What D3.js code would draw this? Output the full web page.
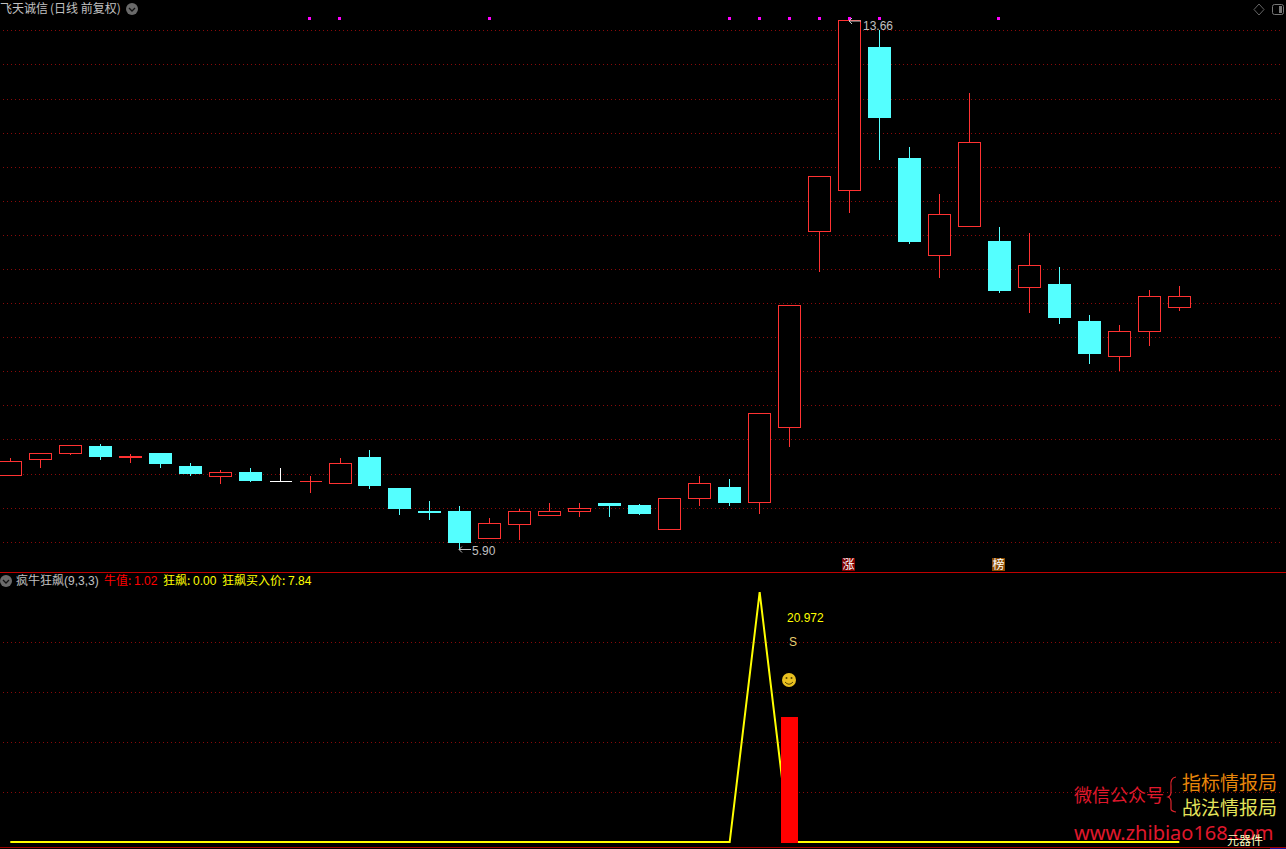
<!DOCTYPE html>
<html lang="zh">
<head>
<meta charset="utf-8">
<script src="https://cdn.jsdelivr.net/npm/d3@7/dist/d3.min.js"></script>
<style>
html,body{margin:0;padding:0;background:#000;overflow:hidden}
svg{display:block}
text{font-family:"Liberation Sans","Noto Sans CJK SC",sans-serif;font-size:12px;white-space:pre}
</style>
</head>
<body>
<svg id="c" width="1286" height="849"></svg>
<script>
// Daily price bars of 飞天诚信, left to right
const opens  = [6.981,7.210,7.298,7.411,7.235,7.308,7.118,6.961,7.030,6.893,6.893,6.858,7.250,6.795,6.458,6.458,6.051,6.257,6.389,6.447,6.575,6.546,6.183,6.638,6.810,6.585,7.685,10.560,11.162,13.264,11.636,10.203,10.628,10.418,9.733,9.787,9.245,8.721,9.088,9.440];
const closes = [7.187,7.304,7.421,7.250,7.264,7.147,7.000,7.025,6.898,6.893,6.893,7.157,6.824,6.487,6.428,5.988,6.277,6.453,6.453,6.497,6.531,6.414,6.644,6.864,6.575,7.891,9.475,11.367,13.656,12.222,10.403,10.810,11.866,9.685,10.062,9.289,8.761,9.094,9.607,9.607];
const highs  = [7.235,7.304,7.421,7.440,7.294,7.308,7.162,7.059,7.088,7.088,6.971,7.235,7.352,6.795,6.604,6.531,6.355,6.487,6.575,6.575,6.575,6.560,6.644,6.971,6.927,7.891,9.475,11.367,13.660,13.513,11.797,11.108,12.589,10.624,10.535,10.037,9.333,9.186,9.699,9.758];
const lows   = [6.981,7.093,7.279,7.206,7.162,7.088,6.971,6.854,6.883,6.893,6.722,6.858,6.780,6.399,6.325,5.900,6.051,6.032,6.389,6.369,6.369,6.399,6.183,6.531,6.531,6.414,7.401,9.963,10.833,11.606,10.374,9.875,10.628,9.655,9.362,9.201,8.614,8.511,8.878,9.391];
// Lower pane: 牛值 line, one value per bar
const bullValues = [0,0,0,0,0,0,0,0,0,0,0,0,0,0,0,0,0,0,0,0,0,0,0,0,0,25,0,0,0,0,0,0,0,0,0,0,0,0,0,0];
const buyBarIndex = 26, buyBarValue = 12.5, buyLabel = "20.972", sellLabel = "S";
const signalIndexes = [10,11,16,24,25,26,27,28,29,33];
const priceTicks = [6,6.5,7,7.5,8,8.5,9,9.5,10,10.5,11,11.5,12,12.5,13,13.5];
const bullTicks = [5,10,15,20];
const watermarkLines = ["微信公众号","指标情报局","战法情报局","www.zhibiao168.com"];

const W = 1286, H = 849;
const svg = d3.select("#c");
const x = d3.scaleLinear().domain([0,39]).range([10.3,1179.3]);
const y = d3.scaleLinear().domain([5.90,13.66]).range([549,20]);
const yb = d3.scaleLinear().domain([0,25]).range([842,592]);
const crisp = v => Math.round(v - 0.5) + 0.5;
const RED = "#ff3232", CYAN = "#54ffff", YEL = "#ffff00", GRID = "#8a0a0a";

const grid = svg.append("g").attr("stroke",GRID).attr("stroke-dasharray","1 3").attr("shape-rendering","crispEdges");
grid.selectAll(".p").data(priceTicks).join("line").attr("class","p")
  .attr("x1",3).attr("x2",W-3).attr("y1",d=>crisp(y(d))).attr("y2",d=>crisp(y(d)));
grid.selectAll(".b").data(bullTicks).join("line").attr("class","b")
  .attr("x1",3).attr("x2",W-3).attr("y1",d=>crisp(yb(d))).attr("y2",d=>crisp(yb(d)));

// Candles
const bars = svg.append("g").attr("shape-rendering","crispEdges");
opens.forEach((o,i)=>{
  const c = closes[i], cx = crisp(x(i));
  const flat = Math.abs(o-c) < 0.001;
  const up = c > o;
  const col = flat ? (i===9 ? "#ffffff" : RED) : (up ? RED : CYAN);
  bars.append("line").attr("x1",cx).attr("x2",cx).attr("y1",y(highs[i])).attr("y2",y(lows[i])).attr("stroke",col);
  const top = y(Math.max(o,c)), bot = y(Math.min(o,c));
  if (flat) {
    bars.append("line").attr("x1",cx-11).attr("x2",cx+11).attr("y1",crisp(top)).attr("y2",crisp(top)).attr("stroke",col);
  } else if (up && bot-top > 3) {
    bars.append("rect").attr("x",cx-11).attr("width",22).attr("y",crisp(top)).attr("height",Math.round(bot-top)).attr("fill","#000").attr("stroke",col);
  } else {
    bars.append("rect").attr("x",cx-11.5).attr("width",23).attr("y",Math.round(top)).attr("height",Math.max(2,Math.round(bot-top))).attr("fill",col);
  }
});

// Signal squares along the top
svg.append("g").selectAll("rect").data(signalIndexes).join("rect")
  .attr("x",d=>Math.round(x(d))-2).attr("y",17).attr("width",3).attr("height",3).attr("fill","#ff00ff");

function txt(t,px,py,fill,opt={}){
  return svg.append("text").attr("x",px).attr("y",py).attr("fill",fill).text(t)
    .attr("text-anchor",opt.anchor||"start").style("font-size",(opt.size||12)+"px")
    .style("font-family",opt.family||null);
}
const CJK = '"Noto Sans CJK SC",sans-serif';

// High / low annotations
function arrow(x0,yy,x1,col){
  svg.append("path").attr("d",`M${x1},${yy}L${x0},${yy}M${x0+3},${yy-3}L${x0},${yy}L${x0+3},${yy+3}`).attr("stroke",col).attr("fill","none");
}
arrow(849,21,861,"#c8c8c8");
txt("13.66",863,30,"#c0c0c0");
arrow(459,549.5,471,"#c0c0c0");
txt("5.90",472,555,"#c0c0c0");

// Header
txt("飞天诚信",0,13,"#c0c0c0",{family:CJK});
txt("(日线 前复权)",50,13,"#c0c0c0",{family:CJK});
function chevron(cx,cy){
  svg.append("circle").attr("cx",cx).attr("cy",cy).attr("r",6).attr("fill","#6a6a6a");
  svg.append("path").attr("d",`M${cx-3},${cy-1}L${cx},${cy+2}L${cx+3},${cy-1}`).attr("stroke","#111").attr("stroke-width",1.3).attr("fill","none");
}
chevron(132,9);
svg.append("path").attr("d","M1259,4L1264,9.5L1259,15L1254,9.5Z").attr("fill","none").attr("stroke","#666");
svg.append("rect").attr("x",1272.5).attr("y",4.5).attr("width",11).attr("height",10).attr("rx",2).attr("fill","none").attr("stroke","#777");
svg.append("rect").attr("x",1279).attr("y",6).attr("width",3).attr("height",7).attr("fill","#777");

// Pane divider and bottom rule
svg.append("line").attr("x1",0).attr("x2",W).attr("y1",572.5).attr("y2",572.5).attr("stroke","#c00000");
svg.append("line").attr("x1",0).attr("x2",W).attr("y1",847.5).attr("y2",847.5).attr("stroke","#a00000");
svg.append("rect").attr("x",1270).attr("y",848).attr("width",16).attr("height",1).attr("fill","#1010a0");

// Lower pane legend
chevron(6,581);
txt("疯牛狂飙",16,585,"#c0c0c0",{family:CJK});
txt("(9,3,3)",64,585,"#c0c0c0");
txt("牛值:",104,585,"#ff0000",{family:CJK});
txt("1.02",134,585,"#ff0000");
txt("狂飙:",163,585,YEL,{family:CJK});
txt("0.00",193,585,YEL);
txt("狂飙买入价:",222,585,YEL,{family:CJK});
txt("7.84",288,585,YEL);

// Bull line and buy bar
const line = d3.line().x((d,i)=>x(i)).y(d=>yb(d));
svg.append("path").datum(bullValues).attr("d",line).attr("fill","none").attr("stroke",YEL).attr("stroke-width",2).attr("stroke-linejoin","miter");
svg.append("rect").attr("x",Math.round(x(buyBarIndex))-9).attr("width",17)
  .attr("y",yb(buyBarValue)).attr("height",yb(0)-yb(buyBarValue)+1).attr("fill","#ff0000");
txt(buyLabel,787,622,YEL);
txt(sellLabel,789,646,"#e8d070");
svg.append("circle").attr("cx",789).attr("cy",680).attr("r",7).attr("fill","#e8c020");
svg.append("circle").attr("cx",786.5).attr("cy",678).attr("r",1).attr("fill","#554400");
svg.append("circle").attr("cx",791.5).attr("cy",678).attr("r",1).attr("fill","#554400");
svg.append("path").attr("d","M785,682Q789,686.5 793,682").attr("stroke","#554400").attr("fill","none");

// Badges
function badge(cx,t,bg,fg){
  svg.append("rect").attr("x",cx-7).attr("y",558).attr("width",13).attr("height",13).attr("fill",bg);
  txt(t,cx-0.5,569,fg,{anchor:"middle",family:CJK,size:12});
}
badge(849,"涨","#800000","#ffffff");
badge(999,"榜","#8a4a00","#ffffff");

// Watermark
txt(watermarkLines[0],1074,802,"#e0182c",{family:CJK,size:18});
svg.append("path").attr("d","M1176,777Q1170,778 1171,786L1171,792Q1171,796 1168,797Q1171,798 1171,802L1171,809Q1171,811 1176,812").attr("fill","none").attr("stroke","#e0242c").attr("stroke-width",1.2);
txt(watermarkLines[1],1182,790,"#e8860a",{family:CJK,size:19});
txt(watermarkLines[2],1182,815,"#e4e45a",{family:CJK,size:19});
txt(watermarkLines[3],1074,840,"#e0182c",{size:20,family:'"Noto Sans",sans-serif'});
txt("元器件",1227,845,"#ffffc0",{family:CJK});
</script>
</body>
</html>
